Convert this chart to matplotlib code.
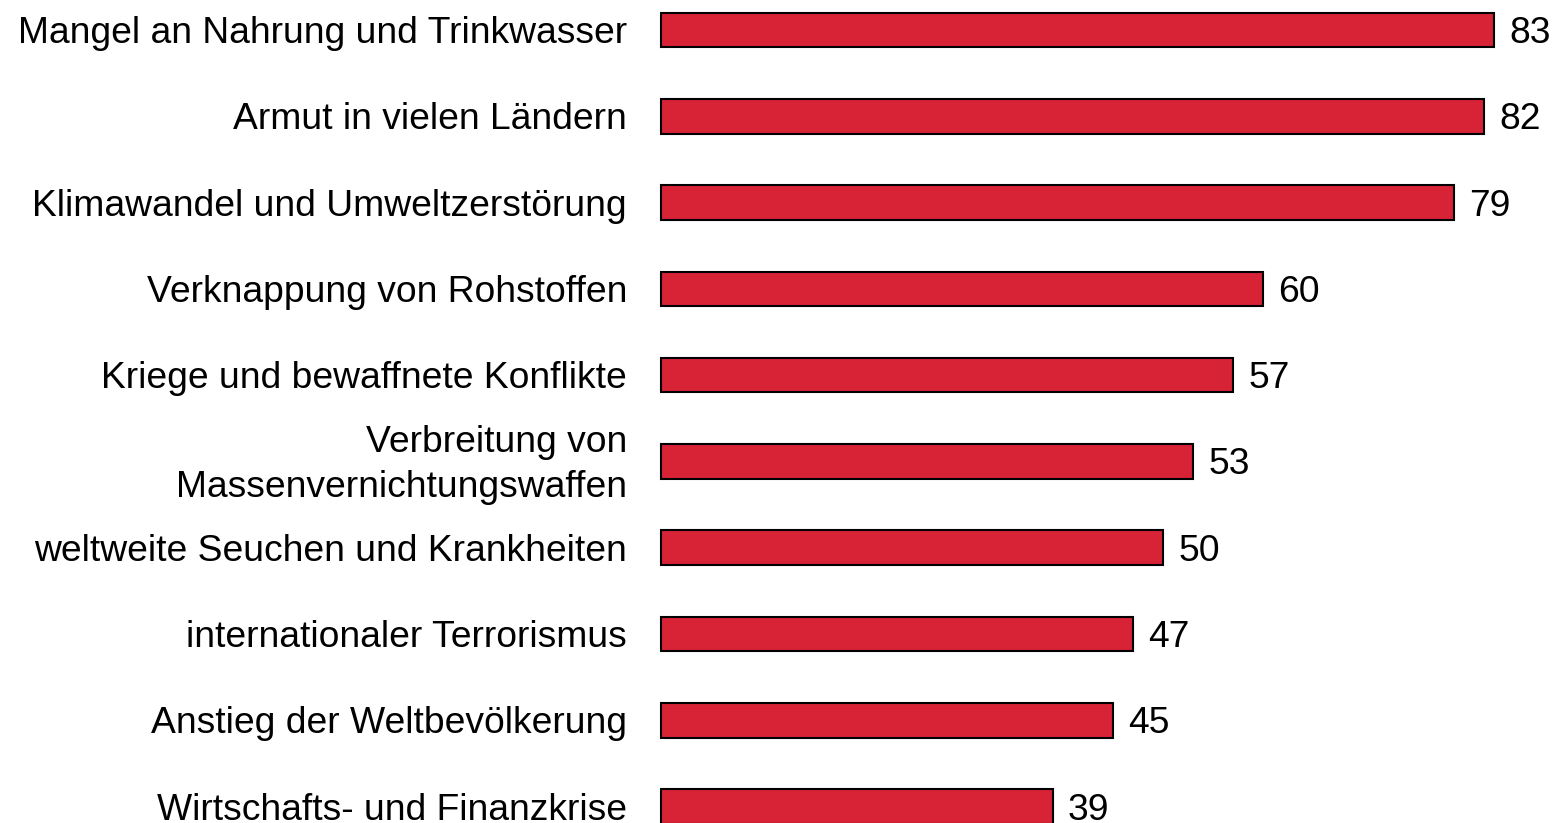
import matplotlib
matplotlib.use("Agg")
import matplotlib.pyplot as plt
from matplotlib.patches import Rectangle

# Daten
kategorien = [
    "Mangel an Nahrung und Trinkwasser",
    "Armut in vielen Ländern",
    "Klimawandel und Umweltzerstörung",
    "Verknappung von Rohstoffen",
    "Kriege und bewaffnete Konflikte",
    "Verbreitung von\nMassenvernichtungswaffen",
    "weltweite Seuchen und Krankheiten",
    "internationaler Terrorismus",
    "Anstieg der Weltbevölkerung",
    "Wirtschafts- und Finanzkrise",
]
werte = [83, 82, 79, 60, 57, 53, 50, 47, 45, 39]

rot = "#D82236"
plt.rcParams['font.family'] = ['Liberation Sans', 'DejaVu Sans']

fig = plt.figure(figsize=(15.55, 8.23), dpi=100)
ax = fig.add_axes([0, 0, 1, 1])

pos = list(range(len(werte)))
ax.barh(pos, werte, height=0.4, color=rot, edgecolor='black', linewidth=1.5)

for i, (kat, w) in enumerate(zip(kategorien, werte)):
    t = ax.text(-3.4, i + 0.04, kat, ha='right', va='center', fontsize=26.8,
                linespacing=1.36)
    # Beschriftung wird auf ihren Zeilenbereich beschnitten
    clip = Rectangle((-70, i - 0.5), 70, 0.97, transform=ax.transData)
    t.set_clip_path(clip)
    ax.text(w + 1.5, i + 0.04, str(w), ha='left', va='center', fontsize=26.8)

ax.set_xlim(-65.84, 89.04)
ax.set_ylim(9.19, -0.348)
ax.axis('off')

fig.savefig("out.png", dpi=100)
